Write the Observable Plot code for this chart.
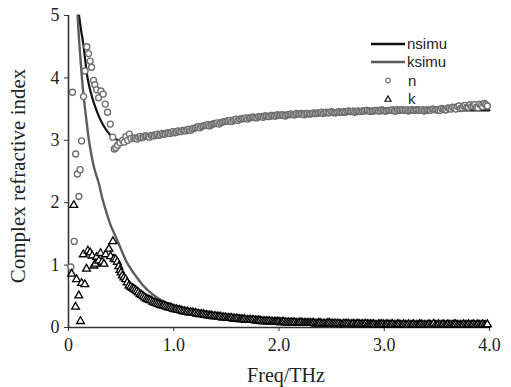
<!DOCTYPE html>
<html>
<head>
<meta charset="utf-8">
<script src="https://cdn.jsdelivr.net/npm/d3@7"></script>
<script src="https://cdn.jsdelivr.net/npm/@observablehq/plot@0.6"></script>
<style>
  html, body { margin: 0; padding: 0; background: white; }
</style>
</head>
<body>
<div id="chart"></div>
<script>
// ---- Data ----
const xTicks = [0, 1, 2, 3, 4];
const xTickLabels = ["0", "1.0", "2.0", "3.0", "4.0"];
const yTicks = [0, 1, 2, 3, 4, 5];

// simulated curves
const nsimuFreq = [0.10,0.12,0.14,0.16,0.18,0.21,0.245,0.28,0.324,0.37,0.42,0.48,0.55,0.62,0.70,0.80,0.90,1.00,1.20,1.40,1.60,1.80,2.00,2.30,2.60,3.00,3.40,3.70,4.00];
const nsimuVal  = [5.0,4.76,4.55,4.27,4.01,3.78,3.58,3.42,3.26,3.14,3.05,3.0,2.99,3.01,3.04,3.07,3.10,3.13,3.20,3.27,3.32,3.36,3.39,3.42,3.44,3.46,3.47,3.48,3.48];
const ksimuFreq = [0.086,0.10,0.115,0.127,0.143,0.159,0.175,0.19,0.21,0.23,0.25,0.29,0.32,0.355,0.40,0.45,0.50,0.546,0.60,0.65,0.70,0.80,0.90,1.00,1.10,1.20,1.40,1.60,1.80,2.00,2.50,3.00,3.50,4.00];
const ksimuVal  = [5.0,4.62,4.28,4.01,3.72,3.48,3.25,3.05,2.84,2.66,2.52,2.30,2.08,1.875,1.64,1.45,1.25,1.07,0.92,0.80,0.69,0.53,0.42,0.35,0.30,0.26,0.20,0.16,0.13,0.11,0.08,0.06,0.05,0.04];

// measured n, low-frequency part
const nLowFreq = [0.022,0.038,0.054,0.068,0.084,0.099,0.110,0.124,0.143,0.157,0.174,0.190,0.206,0.219,0.238,0.250,0.267,0.286,0.308,0.330,0.349,0.371,0.397,0.420,0.435,0.450,0.467,0.489,0.514,0.530,0.546,0.562,0.578,0.594];
const nLowVal  = [0.97,3.77,1.38,2.78,2.46,2.10,2.53,2.99,3.70,4.11,4.50,4.39,4.27,4.17,3.96,3.89,3.81,3.68,3.79,3.74,3.58,3.45,3.26,3.05,2.86,2.88,2.92,2.96,3.00,2.97,3.06,3.00,3.10,3.03];

// measured k, low-frequency part
const kLowFreq = [0.030,0.050,0.067,0.076,0.098,0.114,0.124,0.140,0.155,0.171,0.184,0.205,0.225,0.241,0.255,0.267,0.289,0.305,0.320,0.337,0.353,0.384,0.400,0.422,0.432,0.448,0.464,0.478,0.489,0.500,0.511,0.527,0.543,0.558,0.574,0.590,0.606];
const kLowVal  = [0.86,1.96,0.33,0.77,0.51,0.10,0.71,1.17,0.69,0.94,1.23,1.20,1.15,0.99,1.02,1.13,1.07,1.19,1.05,1.02,1.17,1.26,1.14,1.38,1.10,1.09,1.05,0.98,0.92,0.88,0.83,0.80,0.77,0.72,0.67,0.65,0.63];

// measured n and k, dense part (first grid)
const denseFreq = [
  0.62,0.65,0.68,0.71,0.74,0.77,0.80,0.83,0.86,0.89,
  0.92,0.95,0.98,1.01,1.04,1.07,1.10,1.13,1.16,1.19,
  1.22,1.25,1.28,1.31,1.34,1.37,1.40,1.43,1.46,1.49,
  1.52,1.55,1.58,1.61,1.64,1.67,1.70,1.73,1.76,1.79,
  1.82,1.85,1.88,1.91,1.94,1.97,2.00,2.03,2.06,2.09,
  2.12,2.15,2.18,2.21,2.24,2.27,2.30,2.33,2.36,2.39,
  2.42,2.45,2.48,2.51,2.54,2.57,2.60,2.63,2.66,2.69,
  2.72,2.75,2.78,2.81,2.84,2.87,2.90,2.93,2.96,2.99,
  3.02,3.05,3.08,3.11,3.14,3.17,3.20,3.23,3.26,3.29,
  3.32,3.35,3.38,3.41,3.44,3.47,3.50,3.53,3.56,3.59,
  3.62,3.65,3.68,3.71,3.74,3.77,3.80,3.83,3.86,3.89,
  3.92,3.95,3.98];
const nDense = [
  3.04,3.02,3.06,3.05,3.07,3.05,3.08,3.09,3.08,3.11,
  3.10,3.12,3.13,3.12,3.15,3.14,3.16,3.17,3.16,3.19,
  3.21,3.20,3.23,3.24,3.23,3.26,3.27,3.26,3.29,3.30,
  3.31,3.30,3.33,3.32,3.34,3.35,3.34,3.36,3.37,3.36,
  3.38,3.37,3.39,3.38,3.40,3.39,3.40,3.41,3.39,3.41,
  3.42,3.41,3.42,3.43,3.41,3.43,3.42,3.44,3.43,3.44,
  3.43,3.45,3.44,3.45,3.44,3.46,3.45,3.45,3.47,3.46,
  3.45,3.47,3.46,3.47,3.48,3.46,3.47,3.48,3.47,3.48,
  3.47,3.48,3.49,3.47,3.48,3.49,3.48,3.47,3.49,3.48,
  3.49,3.48,3.47,3.49,3.48,3.50,3.49,3.48,3.50,3.49,
  3.51,3.53,3.50,3.55,3.52,3.56,3.53,3.54,3.57,3.52,
  3.56,3.59,3.55];
const kDense = [
  0.62,0.58,0.53,0.50,0.46,0.44,0.41,0.39,0.37,0.35,
  0.34,0.32,0.31,0.29,0.28,0.27,0.26,0.25,0.24,0.23,
  0.22,0.21,0.21,0.20,0.19,0.18,0.18,0.17,0.16,0.16,
  0.15,0.15,0.14,0.14,0.13,0.13,0.12,0.12,0.12,0.11,
  0.11,0.10,0.10,0.10,0.09,0.09,0.09,0.09,0.08,0.08,
  0.08,0.08,0.07,0.08,0.07,0.07,0.07,0.07,0.06,0.07,
  0.06,0.06,0.07,0.06,0.06,0.06,0.05,0.06,0.06,0.05,
  0.05,0.06,0.05,0.05,0.05,0.05,0.05,0.04,0.05,0.05,
  0.05,0.04,0.05,0.04,0.05,0.04,0.04,0.05,0.04,0.04,
  0.04,0.05,0.04,0.04,0.04,0.06,0.04,0.04,0.05,0.04,
  0.04,0.04,0.05,0.04,0.04,0.04,0.05,0.04,0.04,0.05,
  0.04,0.04,0.05];

// measured n and k, dense part (interleaved grid)
const denseFreq2 = [
  0.635,0.665,0.695,0.725,0.755,0.785,0.815,0.845,0.875,0.905,
  0.935,0.965,0.995,1.025,1.055,1.085,1.115,1.145,1.175,1.205,
  1.235,1.265,1.295,1.325,1.355,1.385,1.415,1.445,1.475,1.505,
  1.535,1.565,1.595,1.625,1.655,1.685,1.715,1.745,1.775,1.805,
  1.835,1.865,1.895,1.925,1.955,1.985,2.015,2.045,2.075,2.105,
  2.135,2.165,2.195,2.225,2.255,2.285,2.315,2.345,2.375,2.405,
  2.435,2.465,2.495,2.525,2.555,2.585,2.615,2.645,2.675,2.705,
  2.735,2.765,2.795,2.825,2.855,2.885,2.915,2.945,2.975,3.005,
  3.035,3.065,3.095,3.125,3.155,3.185,3.215,3.245,3.275,3.305,
  3.335,3.365,3.395,3.425,3.455,3.485,3.515,3.545,3.575,3.605,
  3.635,3.665,3.695,3.725,3.755,3.785,3.815,3.845,3.875,3.905,
  3.935,3.965];
const nDense2 = [
  3.03,3.05,3.04,3.07,3.06,3.08,3.07,3.10,3.09,3.10,
  3.12,3.11,3.14,3.13,3.14,3.16,3.15,3.18,3.18,3.20,
  3.22,3.22,3.24,3.25,3.25,3.27,3.28,3.28,3.30,3.31,
  3.32,3.32,3.34,3.34,3.35,3.36,3.36,3.37,3.36,3.38,
  3.38,3.39,3.38,3.40,3.39,3.41,3.40,3.40,3.41,3.42,
  3.41,3.43,3.42,3.42,3.43,3.42,3.43,3.43,3.44,3.45,
  3.44,3.44,3.46,3.44,3.45,3.45,3.46,3.46,3.46,3.47,
  3.46,3.46,3.47,3.48,3.47,3.47,3.48,3.47,3.49,3.47,
  3.48,3.48,3.47,3.49,3.48,3.48,3.49,3.48,3.48,3.49,
  3.48,3.49,3.48,3.48,3.50,3.49,3.48,3.51,3.49,3.52,
  3.50,3.52,3.54,3.51,3.55,3.53,3.57,3.55,3.53,3.58,
  3.54,3.57];
const kDense2 = [
  0.60,0.56,0.52,0.48,0.45,0.43,0.40,0.38,0.36,0.35,
  0.33,0.32,0.30,0.29,0.28,0.26,0.25,0.24,0.24,0.23,
  0.22,0.21,0.20,0.19,0.19,0.18,0.17,0.17,0.16,0.15,
  0.15,0.14,0.14,0.13,0.13,0.12,0.12,0.12,0.11,0.11,
  0.10,0.10,0.10,0.09,0.09,0.09,0.08,0.09,0.08,0.08,
  0.08,0.07,0.08,0.07,0.07,0.07,0.07,0.06,0.07,0.06,
  0.06,0.07,0.06,0.06,0.06,0.05,0.06,0.06,0.05,0.06,
  0.05,0.05,0.05,0.06,0.05,0.05,0.04,0.05,0.05,0.04,
  0.05,0.05,0.04,0.05,0.04,0.05,0.04,0.04,0.05,0.04,
  0.05,0.04,0.04,0.05,0.04,0.04,0.05,0.04,0.04,0.05,
  0.04,0.05,0.04,0.04,0.05,0.04,0.04,0.05,0.04,0.04,
  0.05,0.04];

// ---- Build tables ----
const nsimu = nsimuFreq.map((f, i) => ({f, v: nsimuVal[i]}));
const ksimu = ksimuFreq.map((f, i) => ({f, v: ksimuVal[i]}));
const denseN = denseFreq.map((f, i) => ({f, v: nDense[i]}))
  .concat(denseFreq2.map((f, i) => ({f, v: nDense2[i]})))
  .sort((a, b) => a.f - b.f);
const denseK = denseFreq.map((f, i) => ({f, v: kDense[i]}))
  .concat(denseFreq2.map((f, i) => ({f, v: kDense2[i]})))
  .sort((a, b) => a.f - b.f);
const nMeas = nLowFreq.map((f, i) => ({f, v: nLowVal[i]})).concat(denseN);
const kMeas = kLowFreq.map((f, i) => ({f, v: kLowVal[i]})).concat(denseK);

const W = 511, H = 387;
const serif = "'Liberation Serif', 'Times New Roman', serif";

const chart = Plot.plot({
  width: W,
  height: H,
  marginLeft: 68,
  marginRight: 22,
  marginTop: 15,
  marginBottom: 60,
  style: {fontFamily: serif, fontSize: "18px", background: "white", color: "#222"},
  x: {domain: [0, 4]},
  y: {domain: [0, 5]},
  marks: [
    Plot.axisX({ticks: xTicks, tickFormat: (d, i) => xTickLabels[i], tickSize: 4, tickPadding: 7, label: null, fontSize: 18, stroke: "#333"}),
    Plot.axisY({ticks: yTicks, tickFormat: d => String(d), tickSize: 4, tickPadding: 5, label: null, fontSize: 18, stroke: "#333"}),
    Plot.ruleX([0], {stroke: "#333", strokeWidth: 1.6}),
    Plot.ruleY([0], {stroke: "#333", strokeWidth: 1.6}),
    Plot.line(nsimu, {x: "f", y: "v", stroke: "#111", strokeWidth: 2.2, curve: "monotone-x"}),
    Plot.line(ksimu, {x: "f", y: "v", stroke: "#5c5c5c", strokeWidth: 2.4, curve: "monotone-x"}),
    Plot.dot(nMeas, {x: "f", y: "v", r: 3, stroke: "#6e6e6e", strokeWidth: 1.35, fill: "white"}),
    Plot.dot(kMeas, {x: "f", y: "v", r: 2.9, symbol: "triangle", stroke: "#000", strokeWidth: 1.3, fill: "white"})
  ]
});

document.getElementById("chart").appendChild(chart);

// ---- Axis titles and legend ----
const svg = d3.select(chart);
svg.append("text")
  .attr("x", 286).attr("y", 382)
  .attr("text-anchor", "middle")
  .attr("font-family", serif).attr("font-size", 20).attr("fill", "#222")
  .text("Freq/THz");
svg.append("text")
  .attr("transform", "translate(25,176) rotate(-90)")
  .attr("text-anchor", "middle")
  .attr("font-family", serif).attr("font-size", 21).attr("fill", "#222")
  .text("Complex refractive index");

const lg = svg.append("g")
  .attr("font-family", "'Liberation Sans', Arial, sans-serif")
  .attr("font-size", 15).attr("fill", "#222").attr("text-anchor", "start");
lg.append("line").attr("x1", 371).attr("x2", 405).attr("y1", 44).attr("y2", 44).attr("stroke", "#111").attr("stroke-width", 2.4);
lg.append("text").attr("x", 407).attr("y", 44).attr("dy", "0.35em").attr("text-anchor", "start").text("nsimu");
lg.append("line").attr("x1", 371).attr("x2", 405).attr("y1", 62).attr("y2", 62).attr("stroke", "#5c5c5c").attr("stroke-width", 2.4);
lg.append("text").attr("x", 407).attr("y", 62).attr("dy", "0.35em").attr("text-anchor", "start").text("ksimu");
lg.append("circle").attr("cx", 388).attr("cy", 80.5).attr("r", 2.3).attr("fill", "white").attr("stroke", "#777").attr("stroke-width", 1.2);
lg.append("text").attr("x", 408).attr("y", 80.5).attr("dy", "0.35em").attr("text-anchor", "start").text("n");
lg.append("path").attr("d", d3.symbol(d3.symbolTriangle, 16)()).attr("transform", "translate(388,99.5)").attr("fill", "white").attr("stroke", "#111").attr("stroke-width", 1.2);
lg.append("text").attr("x", 408).attr("y", 98.5).attr("dy", "0.35em").attr("text-anchor", "start").text("k");
</script>
</body>
</html>
